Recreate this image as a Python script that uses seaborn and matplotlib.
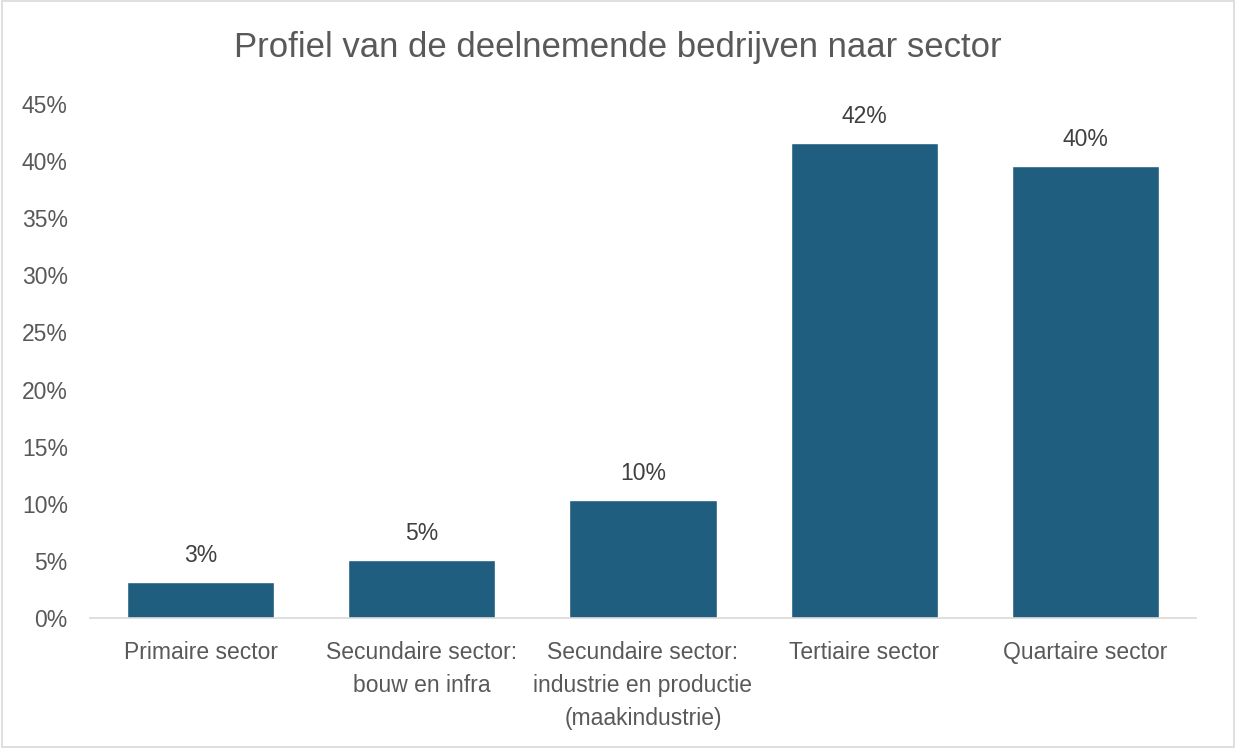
import matplotlib
matplotlib.use("Agg")
import matplotlib.pyplot as plt
import seaborn as sns
import pandas as pd
from matplotlib.patches import Rectangle

categories = [
    "Primaire sector",
    "Secundaire sector:\nbouw en infra",
    "Secundaire sector:\nindustrie en productie\n(maakindustrie)",
    "Tertiaire sector",
    "Quartaire sector",
]
values = [3.15, 5.1, 10.35, 41.6, 39.6]
labels = ["3%", "5%", "10%", "42%", "40%"]
yticks = [0, 5, 10, 15, 20, 25, 30, 35, 40, 45]
ytick_labels = [f"{t}%" for t in yticks]

sns.set_theme(style="white")
plt.rcParams["font.family"] = ["Liberation Sans", "DejaVu Sans"]
text_color = "#595959"

df = pd.DataFrame({"sector": categories, "pct": values})

fig = plt.figure(figsize=(12.36, 7.48), dpi=100)
ax = fig.add_axes([0.0728, 0.1738, 0.8948, 0.6872])
sns.barplot(data=df, x="sector", y="pct", color="#1F5E7E", saturation=1,
            width=0.665, ax=ax)

ax.set_xlim(-0.5, 4.5)
ax.set_ylim(0, 45)
ax.set_yticks(yticks)
ax.set_yticklabels(ytick_labels)
ax.set_xlabel("")
ax.set_ylabel("")
ax.tick_params(axis="y", length=0, pad=16, labelsize=16.5, labelcolor=text_color)
ax.tick_params(axis="x", length=0, pad=16.5, labelsize=16.5, labelcolor=text_color)
for lab in ax.get_xticklabels():
    lab.set_linespacing(1.55)
for s in ["top", "right", "left"]:
    ax.spines[s].set_visible(False)
ax.spines["bottom"].set_color("#D9D9D9")
ax.spines["bottom"].set_linewidth(1.2)

ax.bar_label(ax.containers[0], labels=labels, padding=10.5, fontsize=16.5,
             color="#404040")

fig.text(0.5, 0.937, "Profiel van de deelnemende bedrijven naar sector",
         ha="center", va="center", fontsize=25, color=text_color)

fig.patches.append(Rectangle((0.002, 0.002), 0.996, 0.996, transform=fig.transFigure,
                             fill=False, edgecolor="#D9D9D9", linewidth=1.2))

fig.savefig("out.png", dpi=100)
